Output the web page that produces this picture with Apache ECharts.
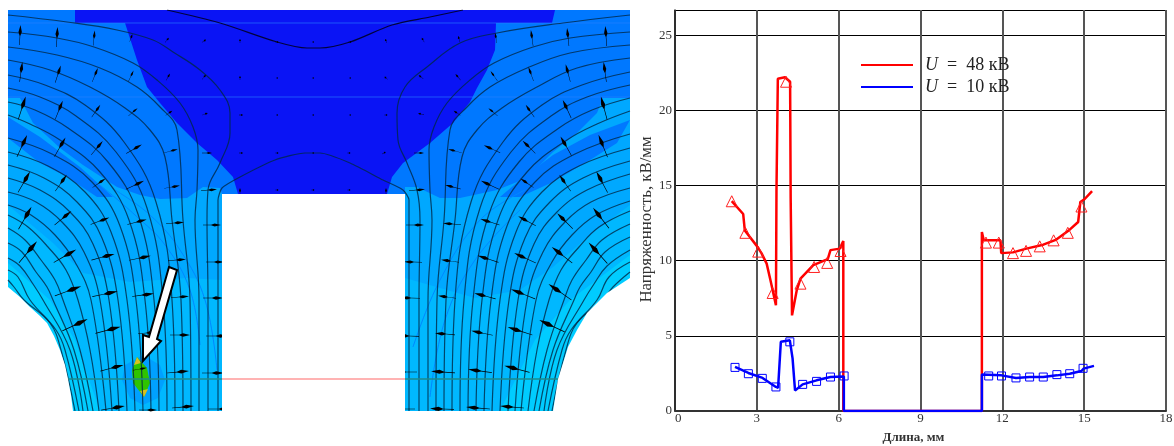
<!DOCTYPE html>
<html><head><meta charset="utf-8">
<style>html,body{margin:0;padding:0;background:#fff}#c{width:1174px;height:446px}</style>
<script src="https://cdn.jsdelivr.net/npm/echarts@6/dist/echarts.min.js"></script>
</head><body><div id="c"></div>
<script>
// ---------- line chart values (x: Длина, мм; y: Напряженность, кВ/мм)
const redLine=[[2.08,13.96],[2.5,13.1],[2.56,12.0],[2.99,11.0],[3.17,10.5],[3.36,9.8],[3.5,8.7],[3.7,7.03],[3.72,14.6],[3.77,22.1],[4.03,22.2],[4.22,21.9],[4.24,14.2],[4.29,6.36],[4.46,8.0],[4.6,8.8],[5.07,9.7],[5.6,10.1],[5.7,10.7],[6.04,10.8],[6.17,11.3],[6.17,0],[11.25,0],[11.25,11.9],[11.32,11.35],[11.93,11.35],[11.96,10.5],[12.39,10.55],[12.88,10.8],[13.5,11.06],[13.98,11.4],[14.47,12.06],[14.78,12.57],[14.86,13.9],[15.02,14.1],[15.29,14.63]];
const blueLine=[[2.2,2.93],[2.69,2.53],[3.21,2.2],[3.7,1.6],[3.78,1.55],[3.88,4.6],[4.21,4.7],[4.31,3.5],[4.4,1.37],[4.68,1.77],[5.19,2.04],[5.7,2.26],[6.19,2.3],[6.19,0],[11.25,0],[11.25,2.42],[11.97,2.37],[12.5,2.2],[13.0,2.26],[13.5,2.26],[14.0,2.37],[14.47,2.48],[14.9,2.66],[14.98,2.82],[15.36,3.0]];
const redMarks=[[2.08,13.95],[2.58,11.85],[3.05,10.6],[3.58,7.85],[4.07,21.9],[4.6,8.47],[5.1,9.58],[5.58,9.85],[6.07,10.64],[11.4,11.2],[11.87,11.2],[12.39,10.5],[12.87,10.65],[13.37,10.95],[13.88,11.35],[14.4,11.85],[14.9,13.6]];
const blueMarks=[[2.2,2.9],[2.69,2.48],[3.2,2.17],[3.7,1.6],[4.21,4.6],[4.68,1.77],[5.19,1.97],[5.7,2.26],[6.2,2.33],[11.5,2.33],[11.97,2.33],[12.5,2.2],[13.0,2.26],[13.5,2.26],[14.0,2.42],[14.47,2.48],[14.96,2.84]];

// ---------- field picture
const panelRegion=[[8,10],[630,10],[630,411],[8,411]];
const darkRegion=[[75,10],[555,10],[552,23],[496,23],[495,50],[487,70],[477,88],[470,102],[453,123],[430,143],[403,163],[392,177],[387,194],[238,194],[233,177],[217,160],[197,143],[177,123],[160,103],[147,87],[137,60],[125,23],[75,23]];
const lightLeft=[[8,98],[20,98],[33,123],[60,148],[83,165],[117,187],[140,195],[160,199],[187,198],[203,187],[220,188],[222,194],[222,411],[8,411]];
const lightRight=[[630,98],[603,98],[597,113],[577,133],[553,152],[527,178],[497,190],[460,198],[440,198],[417,187],[405,187],[405,411],[630,411]];
const wedgeLeft=[[8,117],[40,137],[80,167],[113,197],[97,197],[67,177],[40,163],[8,138]];
const wedgeRight=[[630,120],[590,135],[553,155],[520,180],[500,197],[520,197],[553,182],[590,160],[617,143]];
const paleLeft=[[8,205],[53,243],[83,273],[130,282],[187,278],[222,280],[222,411],[8,411]];
const paleRight=[[405,278],[440,288],[475,298],[520,290],[553,267],[590,235],[630,205],[630,411],[405,411]];
const cyanLeft=[[8,263],[50,300],[75,340],[100,411],[8,411]];
const cyanRight=[[500,411],[535,340],[570,300],[630,255],[630,411]];
const blobRegion=[[143,355],[125,365],[122,380],[130,398],[143,405],[158,398],[165,380],[160,365]];
const lensRegion=[[137,357],[132,370],[133,383],[144,397],[150,383],[147,368]];
const lensTipTop=[[137,357],[134,365],[141,363]];
const lensTipBottom=[[144,397],[140,391],[148,389]];
const maskLeft=[[8,287],[20,297],[30,307],[40,316],[47,323],[54,336],[60,350],[65,365],[68,379],[71,395],[73,411],[73,420],[0,420],[0,287]];
const maskRight=[[630,278],[607,293],[587,313],[577,330],[568,347],[558,379],[553,411],[553,420],[640,420],[640,278]];
const maskBlock=[[222,194],[405,194],[405,420],[222,420]];
const whiteArrow=[[169,267],[177,270],[157,339],[161,341],[143,361],[143,335],[149,337]];
const sectionPink=[[222,379],[405,379]];
const sectionTealLeft=[[68,379],[222,379]];
const sectionTealRight=[[405,379],[558,379]];

const leftFieldLines=[
[[8,15],[67,22],[117,30],[153,40],[173,52],[200,70],[220,90],[230,113],[230,133],[220,163],[208,190],[207,220],[208,300],[208,411]],
[[8,32],[57,38],[94,47],[133,63],[157,80],[180,103],[193,127],[198,150],[197,190],[195,220],[199,300],[199,411]],
[[8,47],[57,55],[100,68],[137,87],[160,107],[177,130],[183,220],[190,300],[191,411]],
[[8,60],[50,70],[90,87],[125,108],[150,130],[165,157],[172,220],[181,300],[183,411]],
[[8,75],[45,85],[85,105],[124,142],[156,202],[172,300],[175,411]],
[[8,88],[40,97],[76,116],[116,152],[147,208],[163,300],[167,411]],
[[8,102],[35,110],[68,128],[108,162],[138,214],[154,300],[159,411]],
[[8,115],[30,124],[60,140],[100,172],[129,220],[145,300],[151,411]],
[[8,138],[52,154],[92,182],[120,226],[136,300],[143,411]],
[[8,152],[48,166],[85,192],[111,232],[127,300],[135,411]],
[[8,165],[44,178],[77,202],[102,238],[118,300],[127,411]],
[[8,178],[40,190],[70,212],[93,244],[109,300],[119,411]],
[[8,192],[36,202],[62,222],[84,252],[100,300],[112,411]],
[[8,205],[31,215],[55,235],[75,262],[91,300],[106,411]],
[[8,215],[28,227],[48,247],[66,270],[78,300],[90,350],[99,411]],
[[8,228],[25,240],[41,260],[55,280],[63,300],[80,350],[93,411]],
[[8,243],[22,252],[36,272],[47,287],[53,300],[74,350],[88,411]],
[[8,258],[20,266],[33,284],[43,300],[70,350],[83,411]],
[[8,270],[18,277],[30,300],[56,330],[65,350],[79,411]],
[[8,280],[14,287],[24,300],[50,323],[61,350],[75,411]]];
const rightFieldLines=[
[[630,15],[563,23],[497,33],[460,43],[427,67],[405,87],[397,113],[398,140],[407,163],[417,190],[420,220],[419,300],[419,411]],
[[630,32],[570,38],[533,47],[494,63],[470,80],[447,103],[434,127],[429,150],[430,190],[432,220],[428,300],[428,411]],
[[630,45],[570,53],[527,68],[490,87],[467,107],[450,130],[444,220],[437,300],[436,411]],
[[630,58],[577,68],[537,87],[502,108],[477,130],[462,157],[455,220],[446,300],[444,411]],
[[630,72],[582,85],[542,105],[503,142],[471,202],[455,300],[452,411]],
[[630,85],[587,97],[551,116],[511,152],[480,208],[464,300],[460,411]],
[[630,98],[592,110],[559,128],[519,162],[489,214],[473,300],[468,411]],
[[630,111],[597,124],[567,140],[527,172],[498,220],[482,300],[476,411]],
[[630,134],[575,154],[535,182],[507,226],[491,300],[484,411]],
[[630,148],[579,166],[542,192],[516,232],[500,300],[492,411]],
[[630,161],[583,178],[550,202],[525,238],[509,300],[500,411]],
[[630,174],[587,190],[557,212],[534,244],[518,300],[508,411]],
[[630,188],[591,202],[565,222],[543,252],[527,300],[515,411]],
[[630,201],[596,215],[572,235],[552,262],[536,300],[521,411]],
[[630,211],[599,227],[579,247],[561,270],[549,300],[537,350],[528,411]],
[[630,224],[602,240],[586,260],[572,280],[564,300],[547,350],[534,411]],
[[630,237],[605,252],[591,272],[580,287],[574,300],[553,350],[539,411]],
[[630,250],[607,266],[594,284],[584,300],[557,350],[544,411]],
[[630,262],[609,277],[597,300],[571,330],[562,350],[548,411]],
[[630,272],[613,287],[603,300],[577,323],[566,350],[552,411]]];
const centreLine=[[218,411],[218,200],[222,188],[240,177],[275,160],[305,153],[320,153],[350,163],[383,180],[403,190],[409,200],[409,411]];
const topArch=[[167,10],[220,23],[277,42],[307,48],[320,48],[350,42],[392,25],[430,17],[463,10]];
const thinBlueLines=[
[[217,370],[205,300],[180,250],[150,215],[115,190]],
[[200,345],[190,290],[165,245],[135,215],[100,185]],
[[413,347],[440,280],[480,220],[525,190]],
[[430,397],[445,320],[475,260],[520,210]]];
const meshLines=[[[8,23],[630,23]],[[8,97],[630,97]]];

// arrows: x, y, clockwise tilt from vertical, length
const fieldArrows=[
[20,35,3,20],[57,37,3,20],[94,38,6,15],[131,38,20,8],[167,40,40,6],[204,41,55,5],[240,41,0,4],[277,42,90,3],[313,42,90,2],
[21,72,8,20],[58,74,18,18],[95,75,22,15],[131,76,25,12],[168,77,30,8],[204,77,40,6],[240,78,0,4],[277,78,90,2],[313,78,90,2],
[22,108,18,24],[59,110,22,20],[96,111,35,15],[133,112,50,12],[169,113,55,8],[205,114,70,6],[241,115,90,4],[277,115,90,2],[313,115,90,2],
[22,146,25,24],[60,147,30,22],[97,148,40,18],[134,149,60,18],[171,151,75,14],[207,153,90,10],[241,153,90,4],[277,153,90,3],[313,153,90,2],
[24,182,30,24],[61,183,35,20],[99,183,55,16],[135,185,65,20],[172,187,80,16],[209,190,85,16],[240,192,0,8],[277,190,90,3],[313,190,90,3],
[25,218,30,26],[63,218,50,22],[100,221,70,20],[137,222,75,20],[175,223,85,18],[212,225,90,18],
[28,252,40,28],[65,256,60,26],[103,257,75,24],[140,258,78,22],[177,260,85,18],[215,262,90,18],
[68,291,70,28],[105,294,78,26],[143,295,82,22],[180,297,85,18],[213,298,90,20],
[75,325,65,28],[108,330,75,26],[147,333,85,18],[180,335,90,20],[217,336,90,22],
[112,368,75,24],[140,369,80,14],[178,372,85,22],[213,373,90,22],
[113,408,80,24],[148,410,90,18],[183,407,85,22],[220,409,90,24]];
const fieldArrowsRight=[
[350,42,90,3],[386,41,-20,4],[423,40,-30,5],[459,39,-15,6],[496,38,-10,10],[532,38,-8,16],[568,37,-6,18],[606,36,-4,20],
[350,78,90,2],[386,78,-50,4],[421,77,-50,6],[458,77,-40,8],[494,76,-35,12],[531,74,-20,15],[568,73,-15,18],[605,72,-8,20],
[350,115,90,2],[386,115,90,3],[421,114,-80,6],[457,113,-55,8],[493,112,-50,12],[530,111,-35,15],[567,109,-25,20],[604,108,-15,24],
[349,153,90,3],[384,153,60,4],[419,153,90,10],[455,151,-75,14],[492,149,-65,18],[529,147,-45,18],[566,146,-30,22],[603,146,-22,24],
[349,190,90,3],[386,192,0,8],[417,190,85,16],[453,187,-75,16],[490,185,-65,20],[527,183,-55,16],[565,183,-35,20],[602,182,-28,24],
[415,225,90,18],[452,224,-85,18],[490,222,-72,20],[527,221,-62,20],[565,221,-45,22],[601,218,-38,26],
[413,262,-88,18],[450,261,-82,18],[488,259,-72,22],[525,258,-65,24],[562,255,-52,26],[598,253,-42,28],
[410,298,-88,20],[447,297,-82,18],[485,296,-75,22],[523,294,-68,26],[560,292,-55,28],
[408,336,-88,22],[445,334,-85,20],[482,333,-78,22],[520,331,-72,26],[552,326,-65,28],
[405,372,-90,24],[443,372,-86,24],[480,371,-82,24],[517,369,-75,26],
[403,409,-90,24],[442,409,-88,24],[478,408,-85,24],[512,407,-85,24]];

const xTicks={min:0,max:18,interval:3};
const yTicks={min:0,max:26.67,interval:5};
const name48='U = 48 кВ', name10='U = 10 кВ';

const serif='"Liberation Serif","Times New Roman",serif';
const polygons=[
 [panelRegion,'#0078ff'],[darkRegion,'#0a14f5'],[lightLeft,'#00a8ff'],[lightRight,'#00a8ff'],
 [wedgeLeft,'#0078ff'],[wedgeRight,'#0078ff'],[paleLeft,'#00b8ff'],[paleRight,'#00b8ff'],
 [cyanLeft,'#00ccff'],[cyanRight,'#00ccff'],[blobRegion,'#00a0ff'],[lensRegion,'#2fc400'],
 [lensTipTop,'#d8c020'],[lensTipBottom,'#d8c020']];
const masks=[[maskLeft,'#fff'],[maskRight,'#fff'],[maskBlock,'#fff']];
function polySeries(list,z,stroke,strokeW,clip){return {
 type:'custom',xAxisIndex:1,yAxisIndex:1,z,silent:true,clip:!!clip,
 data:list.map((_,i)=>[i]),
 renderItem:(p,api)=>{const e=list[api.value(0)];
  return {type:'polygon',shape:{points:e[0].map(q=>api.coord(q))},style:{fill:e[1],stroke:stroke||null,lineWidth:strokeW||0}};}
};}
function fieldLine(pts,color,w,z,smooth){return {type:'line',xAxisIndex:1,yAxisIndex:1,data:pts,symbol:'none',silent:true,z,smooth:smooth,
 lineStyle:{color,width:w},itemStyle:{color}};}
const arrowPath='path://M2,0 L3.6,7 L2.25,11 L2.25,20 L1.75,20 L1.75,11 L0.4,7 Z';
function arrowSeries(d){return {type:'scatter',xAxisIndex:1,yAxisIndex:1,data:d,z:3,silent:true,symbol:arrowPath,
 symbolSize:v=>[Math.max(2,v[3]*0.17),v[3]],symbolRotate:v=>-v[2],itemStyle:{color:'#000',opacity:1}};}

const fieldColor='rgba(0,40,70,0.8)';
const series=[
 polySeries(polygons,1),
 ...meshLines.map(l=>fieldLine(l,'rgba(40,130,255,0.6)',1,2,false)),
 ...thinBlueLines.map(l=>fieldLine(l,'#0088ff',1,2,0.4)),
 ...leftFieldLines.map(l=>fieldLine(l,fieldColor,1.2,2,0.4)),
 ...rightFieldLines.map(l=>fieldLine(l,fieldColor,1.2,2,0.4)),
 fieldLine(centreLine,fieldColor,1.2,2,0.2),
 fieldLine(topArch,'rgba(0,0,40,0.9)',1.2,2,0.3),
 arrowSeries(fieldArrows),arrowSeries(fieldArrowsRight),
 polySeries(masks,4),
 fieldLine(sectionPink,'#ff9a9a',1.5,5,false),
 fieldLine(sectionTealLeft,'#1f8a8a',1.5,5,false),
 fieldLine(sectionTealRight,'#1f8a8a',1.5,5,false),
 polySeries([[whiteArrow,'#fff']],6,'#000',2),
 {type:'line',name:name48,data:redLine,symbol:'none',z:5,lineStyle:{color:'#ff0000',width:2.5},itemStyle:{color:'#ff0000'}},
 {type:'line',name:name10,data:blueLine,symbol:'none',z:6,lineStyle:{color:'#0000ff',width:2.5},itemStyle:{color:'#0000ff'}},
 {type:'scatter',data:redMarks,symbol:'triangle',symbolSize:11,z:5,itemStyle:{color:'rgba(0,0,0,0)',borderColor:'#ff2020',borderWidth:1,opacity:1}},
 {type:'scatter',data:blueMarks,symbol:'rect',symbolSize:8,z:6,itemStyle:{color:'rgba(0,0,0,0)',borderColor:'#0000ff',borderWidth:1,opacity:1}}
];
const chart=echarts.init(document.getElementById('c'),null,{renderer:'canvas'});
chart.setOption({
 animation:false,backgroundColor:'#fff',
 grid:[{left:675,top:10,width:491,height:401,outerBoundsMode:'none'},{left:8,top:10,width:622,height:401,outerBoundsMode:'none'}],
 legend:{data:[name48,name10],orient:'vertical',left:861,top:56,padding:0,itemWidth:52,itemHeight:14,itemGap:4,
  icon:'path://M0,6 L52,6 L52,8 L0,8 Z',selectedMode:false,
  formatter:n=>n.replace('U = ','{i|U}\u2002=\u2002'),
  textStyle:{fontFamily:serif,fontSize:18,color:'#222',padding:[0,0,0,7],rich:{i:{fontFamily:serif,fontStyle:'italic',fontSize:18,color:'#222'}}}},
 xAxis:[{type:'value',...xTicks,name:'Длина, мм',nameLocation:'middle',nameGap:20,
   nameTextStyle:{fontFamily:serif,fontSize:13,fontWeight:'bold',color:'#333',padding:[0,14,0,0]},
   axisLine:{show:true,onZero:false,lineStyle:{color:'#333',width:2}},axisTick:{show:false},
   axisLabel:{fontFamily:serif,fontSize:13,color:'#333',margin:1,alignMinLabel:'left'},
   splitLine:{show:true,lineStyle:{color:'#555',width:2}}},
  {type:'value',gridIndex:1,min:8,max:630,show:false,splitLine:{show:false}}],
 yAxis:[{type:'value',...yTicks,name:'Напряженность, кВ/мм',nameLocation:'middle',nameGap:19,nameRotate:90,
   nameTextStyle:{fontFamily:serif,fontSize:16.8,color:'#333',padding:[0,18,0,0]},
   axisLine:{show:true,lineStyle:{color:'#222',width:1.5}},axisTick:{show:false},
   axisLabel:{fontFamily:serif,fontSize:13,color:'#333',margin:3,showMaxLabel:false},
   splitLine:{show:true,lineStyle:{color:'#000',width:1}}},
  {type:'value',gridIndex:1,min:10,max:411,inverse:true,show:false,splitLine:{show:false}}],
 series
});
</script></body></html>
